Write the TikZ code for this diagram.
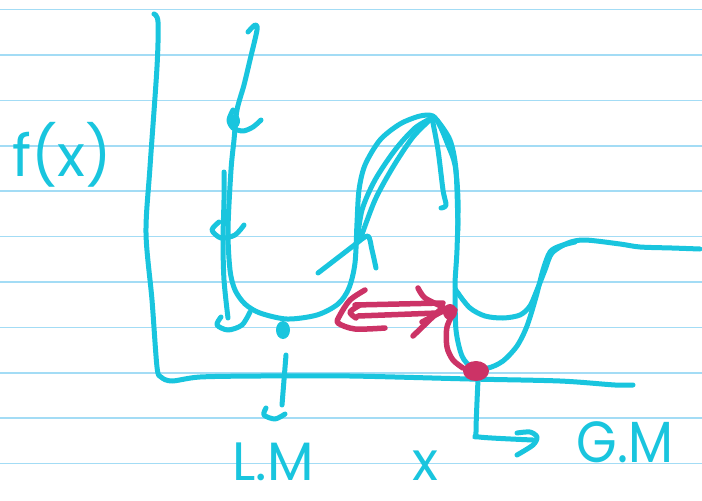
\documentclass[tikz,border=0pt]{standalone}
\usepackage{fontspec}
\setmainfont{Poppins}
\definecolor{ink}{HTML}{19C5DE}
\definecolor{ruleblue}{HTML}{A3DCF5}
\definecolor{pinkink}{HTML}{CC3366}
\begin{document}
\begin{tikzpicture}[x=1pt,y=-1pt,
  pen/.style={ink,line width=5pt,line cap=round,line join=round},
  penpink/.style={pinkink,line width=5.5pt,line cap=round,line join=round},
  hand/.style={text=ink,font=\fontsize{58}{58}\selectfont,inner sep=0pt,anchor=base,text depth=0pt},
  handlow/.style={hand,font=\fontsize{54}{54}\selectfont}]
\useasboundingbox (0,0) rectangle (702,501);
\fill[white] (0,0) rectangle (702,501);
\foreach \k in {0,...,10} \draw[ruleblue,line width=1.6pt] (0,9.5+45.4*\k) -- (702,9.5+45.4*\k);
% axes
\draw[pen] plot[smooth] coordinates {(154,14) (158,22) (157,67) (150,167) (146,233) (152,300) (157,367) (161,377) (172,381) (200,377) (260,376) (350,376) (470,379) (560,381) (615,385) (633,385)};
% main curve
\draw[pen] plot[smooth] coordinates {(248,32) (255,25) (257,30) (250,60) (244,85) (237,110) (234,140) (231,170) (228,230) (230,270) (235,290) (245,304) (260,313) (287,319) (317,315) (338,304) (349,288) (355,263) (357,223) (359,190) (365,165) (380,140) (400,124) (420,116) (433,116) (440,126) (448,145) (455,165) (458,200) (457,250) (455,285) (458,293) (470,308) (485,316) (503,318) (520,315) (530,306) (537,290) (545,270) (552,253) (568,243) (585,240) (620,244) (640,247) (672,248) (700,249)};
% G.M well
\draw[pen] plot[smooth] coordinates {(455,290) (456,330) (462,356) (472,367) (488,368) (503,361) (517,346) (527,326) (536,297) (543,270) (550,252) (560,246) (575,242)};
% hump scribbles
\draw[pen] plot[smooth] coordinates {(357,243) (362,210) (375,180) (395,150) (415,128) (432,118)};
\draw[pen] plot[smooth] coordinates {(360,240) (375,200) (393,167) (413,137) (432,118)};
\draw[pen] (318,273) -- (357,243);
\draw[pen] plot[smooth] coordinates {(357,243) (368,236) (372,250) (376,268)};
\draw[pen] plot[smooth] coordinates {(432,118) (438,150) (443,190) (446,205) (441,208)};
\draw[pen] plot[smooth] coordinates {(437,120) (450,140) (456,170) (458,230)};
% left decorations
\draw[pen] plot[smooth] coordinates {(233,110) (229,120) (233,128) (243,131) (253,127) (261,120)};
\fill[ink] (235,121) ellipse (5 and 7);
\draw[pen] plot[smooth] coordinates {(224,172) (224,200) (223,240) (224,280) (228,318)};
\draw[pen] plot[smooth] coordinates {(219,222) (212,230) (221,238) (235,235) (244,225)};
\draw[pen] plot[smooth] coordinates {(221,317) (217,325) (228,330) (242,325) (250,312)};
% L.M marker
\fill[ink] (283,330) ellipse (7 and 9);
\draw[pen] plot[smooth] coordinates {(286,355) (284,380) (282,405)};
\draw[pen] plot[smooth] coordinates {(266,408) (264,415) (275,419) (285,414)};
% G.M arrow
\draw[pen] plot[smooth] coordinates {(478,380) (476,432) (479,437) (533,440)};
\draw[pen] plot[smooth] coordinates {(517,433) (530,432) (537,437) (533,445) (517,455)};
% pink
\fill[pinkink] (476,371) ellipse (13 and 10);
\draw[penpink] plot[smooth] coordinates {(455,310) (447,327) (447,347) (453,360) (463,368)};
\fill[pinkink] (450,312) ellipse (7 and 8);
\draw[penpink] (355,305) -- (443,303);
\draw[penpink] (358,316) -- (438,313);
\draw[penpink] plot[smooth] coordinates {(365,290) (350,300) (340,315) (338,323) (355,329) (385,328)};
\draw[penpink] plot[smooth] coordinates {(360,305) (350,312) (356,318)};
\draw[penpink] plot[smooth] coordinates {(418,288) (425,298) (443,307)};
\draw[penpink] (443,307) -- (413,336);
\draw[penpink] (422,322) -- (445,310);
% text
\node[hand] (fx) at (62,176) {f(x)};
\node[handlow] (lm) at (273,480) {L.M};
\node[handlow] (xl) at (425,480) {x};
\node[hand,xscale=0.9] (gm) at (625,462) {G.M};
\end{tikzpicture}
\end{document}
